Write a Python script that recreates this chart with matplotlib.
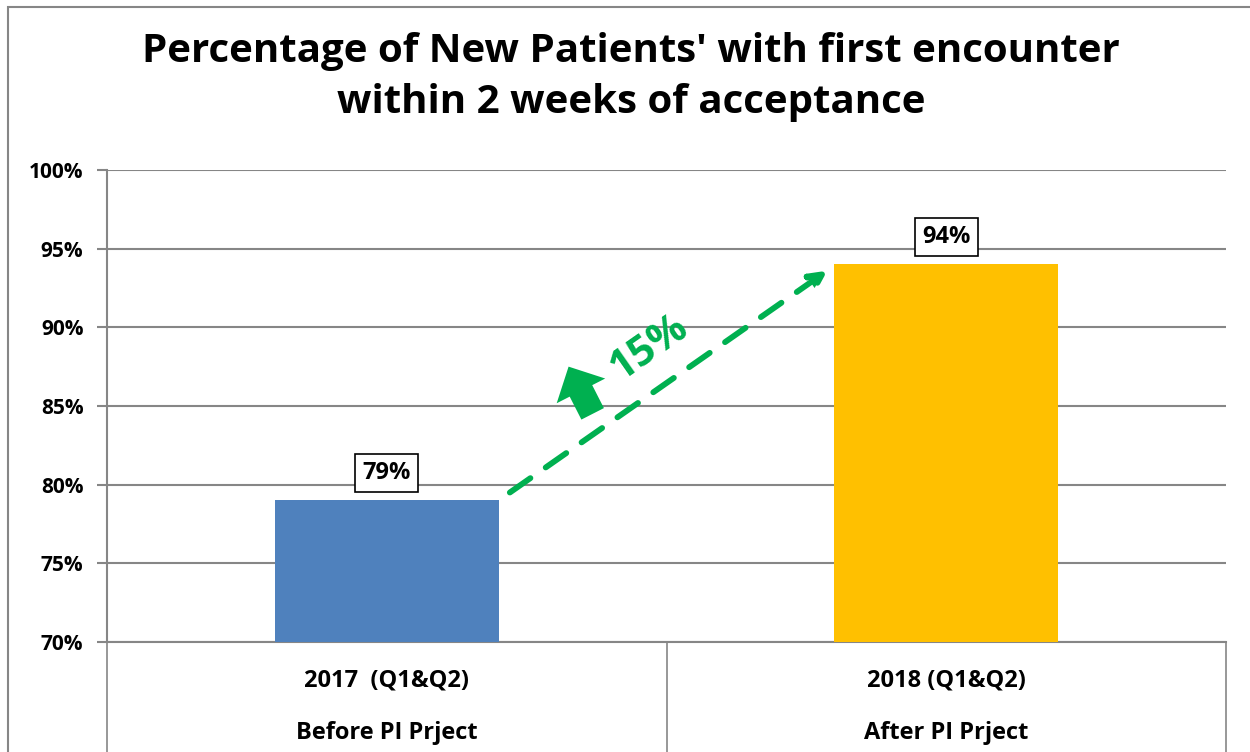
import matplotlib
matplotlib.use('Agg')
import matplotlib.pyplot as plt
from matplotlib.patches import Rectangle
from matplotlib.transforms import blended_transform_factory

plt.rcParams['font.family'] = ['Open Sans', 'DejaVu Sans']
plt.rcParams['font.weight'] = 'bold'

# data
years = ['2017  (Q1&Q2)', '2018 (Q1&Q2)']
phases = ['Before PI Prject', 'After PI Prject']
values = [79, 94]
colors = ['#4F81BD', '#FFC000']
yticks = [70, 75, 80, 85, 90, 95, 100]
change = '15%'

grid_col = '#868686'
green = '#00B050'

fig = plt.figure(figsize=(12.5, 7.52), dpi=100)
ax = fig.add_axes([0.0856, 0.1463, 0.8952, 0.6277])

x = list(range(len(values)))
ax.bar(x, values, width=0.4, color=colors, zorder=3)
ax.set_xlim(-0.5, 1.5)
ax.set_ylim(70, 100)
ax.set_yticks(yticks)
ax.set_yticklabels([f'{t}%' for t in yticks], fontsize=15, fontweight='bold')
ax.set_xticks([])
ax.yaxis.grid(True, color=grid_col, linewidth=1.5, zorder=0)
ax.tick_params(axis='y', length=7, width=1.5, color=grid_col, pad=10)
for s in ['top', 'right']:
    ax.spines[s].set_visible(False)
ax.spines['left'].set_color(grid_col)
ax.spines['left'].set_linewidth(1.5)
ax.spines['bottom'].set_color(grid_col)
ax.spines['bottom'].set_linewidth(1.5)

# value labels in boxes
for xi, v in zip(x, values):
    ax.annotate(f'{v}%', (xi, v), xytext=(0, 11), textcoords='offset points',
                ha='center', va='bottom', fontsize=17, fontweight='bold',
                bbox=dict(boxstyle='square,pad=0.3', fc='white', ec='black', lw=1.2),
                zorder=5)

# category labels (two levels) and separators
tr = blended_transform_factory(ax.transData, ax.transAxes)
for xi, yl, pl in zip(x, years, phases):
    ax.text(xi, -0.082, yl, transform=tr, ha='center', va='center',
            fontsize=17, fontweight='bold', clip_on=False)
    ax.text(xi, -0.192, pl, transform=tr, ha='center', va='center',
            fontsize=17, fontweight='bold', clip_on=False)
for sx in [-0.5, 0.5, 1.5]:
    ax.plot([sx, sx], [0, -0.25], transform=tr, color=grid_col, lw=1.2, clip_on=False)

# dashed growth arrow
ax.annotate('', xy=(0.7875, 93.6), xytext=(0.22, 79.5),
            arrowprops=dict(arrowstyle='-|>,head_length=1.0,head_width=0.5',
                            color=green, lw=4.2, linestyle=(0, (4.3, 3.2)),
                            shrinkA=0, shrinkB=0), zorder=6)
# block arrow
ax.annotate('', xy=(0.325, 87.5), xytext=(0.368, 84.5),
            arrowprops=dict(arrowstyle='simple,head_length=1.4,head_width=2.8,tail_width=1.3',
                            fc=green, ec=green, lw=0, shrinkA=0, shrinkB=0,
                            mutation_scale=14), zorder=6)
ax.text(0.47, 88.7, change, color=green, fontsize=30, fontweight='bold',
        rotation=35, ha='center', va='center', zorder=6)

# title
fig.text(0.505, 0.898, "Percentage of New Patients' with first encounter\nwithin 2 weeks of acceptance",
         ha='center', va='center', fontsize=29, fontweight='bold', linespacing=1.4)

# chart border
fig.patches.append(Rectangle((0.0064, -0.05), 1.1, 1.0407, transform=fig.transFigure,
                             fill=False, ec=grid_col, lw=1.5))

fig.savefig('out.png', dpi=100)
